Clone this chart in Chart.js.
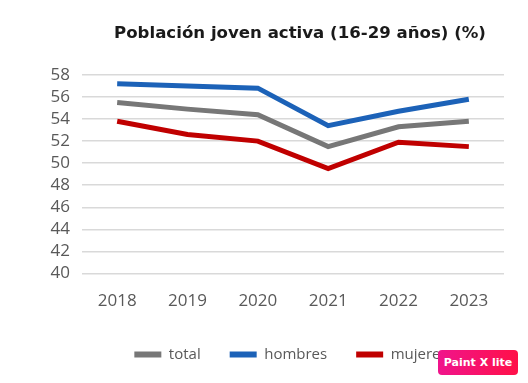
<!DOCTYPE html>
<html>
<head>
<meta charset="utf-8">
<script src="https://cdn.jsdelivr.net/npm/chart.js@4"></script>
<style>
  html, body { margin: 0; padding: 0; background: #fff; overflow: hidden; }
  #wrap { position: relative; width: 528px; height: 383px; overflow: hidden; }
  #badge {
    position: absolute; left: 438px; top: 350px; width: 80px; height: 25px;
    border-radius: 4px; background: linear-gradient(to right, #f0148c, #ff1048);
    color: #fff; font: bold 11px "DejaVu Sans", sans-serif; line-height: 25px; text-align: center;
  }
</style>
</head>
<body>
<div id="wrap">
  <canvas id="chart" width="560" height="383"></canvas>
  <div id="badge">Paint X lite</div>
</div>
<script>
const years = ["2018", "2019", "2020", "2021", "2022", "2023"]
const total = [55.5, 54.9, 54.4, 51.5, 53.3, 53.8]
const hombres = [57.2, 57.0, 56.8, 53.4, 54.7, 55.8]
const mujeres = [53.8, 52.6, 52.0, 49.5, 51.9, 51.5]
const yMin = 40
const yMax = 58
const yStep = 2

const tickFont = { family: "'Open Sans', sans-serif", size: 17 }

function line(label, data, color) {
  return {
    label: label,
    data: data,
    borderColor: color,
    backgroundColor: color,
    borderWidth: 5,
    pointRadius: 0,
    tension: 0
  }
}

// nudge the legend a little to the left
const legendShift = {
  id: 'legendShift',
  afterLayout(chart) {
    chart.legend.left -= 9
    chart.legend.right -= 9
  }
}

// canvas is a bit wider than the window so title/legend centre lines up
const ctx = document.getElementById('chart')
new Chart(ctx, {
  type: 'line',
  data: {
    labels: years,
    datasets: [
      line("total", total, "#777777"),
      line("hombres", hombres, "#1c62b8"),
      line("mujeres", mujeres, "#c00000")
    ]
  },
  plugins: [legendShift],
  options: {
    responsive: false,
    animation: false,
    layout: { padding: { left: 40, right: 0, top: 0, bottom: 11 } },
    plugins: {
      title: {
        display: true,
        text: "Población joven activa (16-29 años) (%)",
        color: "#1a1a1a",
        font: { family: "'DejaVu Sans', sans-serif", size: 16.6, weight: 'bold' },
        padding: { top: 24, bottom: 31 }
      },
      legend: {
        position: 'bottom',
        labels: {
          boxWidth: 27,
          boxHeight: 6,
          padding: 29,
          color: "#595959",
          font: { family: "'Open Sans', sans-serif", size: 15 },
          generateLabels: chart => Chart.defaults.plugins.legend.labels.generateLabels(chart)
            .map(item => ({ ...item, lineWidth: 0 }))
        }
      },
      tooltip: { enabled: false }
    },
    scales: {
      x: {
        offset: true,
        grid: { display: false },
        border: { display: false },
        ticks: { color: "#595959", font: tickFont, padding: 9 },
        afterFit: s => { s.height = 44.5 }
      },
      y: {
        min: yMin,
        max: yMax,
        grid: { color: "#d9d9d9", lineWidth: 1.5, drawTicks: false },
        border: { display: false },
        ticks: { color: "#595959", font: tickFont, padding: 12, stepSize: yStep, autoSkip: false },
        afterFit: s => { s.width = 42 }
      },
      y2: {
        position: 'right',
        grid: { display: false },
        border: { display: false },
        ticks: { display: false },
        afterFit: s => { s.width = 56 }
      }
    }
  }
})
</script>
</body>
</html>
